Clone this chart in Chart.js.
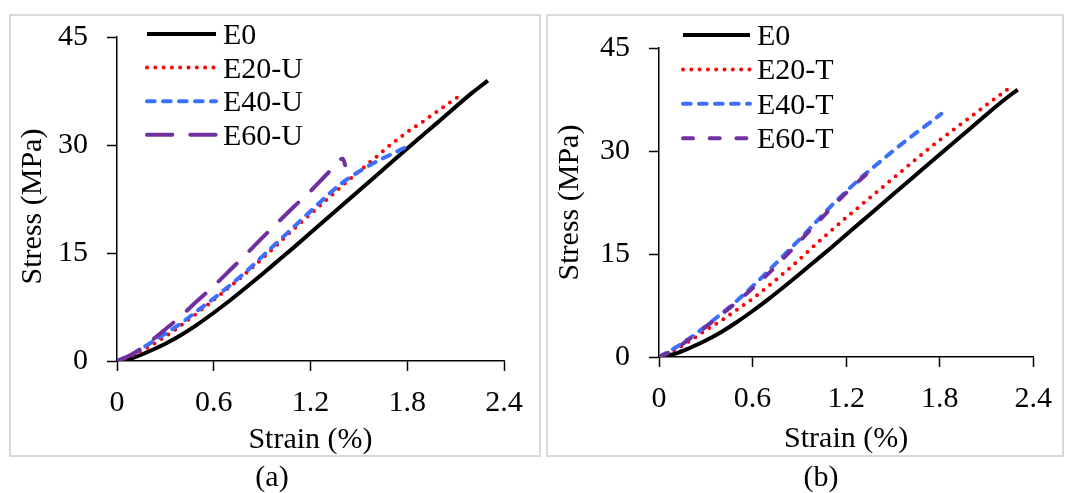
<!DOCTYPE html>
<html>
<head>
<meta charset="utf-8">
<script src="https://cdn.jsdelivr.net/npm/chart.js@4.4.1/dist/chart.umd.min.js"></script>
<style>
  body { margin: 0; background: #fff; width: 1066px; height: 493px; position: relative; overflow: hidden;
         font-family: 'Liberation Serif', 'Times New Roman', serif; }
  .frame { position: absolute; top: 14px; height: 443px; border: 2px solid #d9d9d9; box-sizing: border-box; }
  canvas { position: absolute; top: 0; }
  .cap { position: absolute; top: 461px; width: 100px; text-align: center; font-size: 30px; line-height: 30px; color: #000; }
</style>
</head>
<body>
<div class="frame" style="left:9px;width:532px"></div>
<div class="frame" style="left:546px;width:518px"></div>
<canvas id="chartA" width="543" height="493" style="left:0"></canvas>
<canvas id="chartB" width="523" height="493" style="left:543px"></canvas>
<div class="cap" style="left:222px">(a)</div>
<div class="cap" style="left:771px">(b)</div>
<script>
// axis ticks
var strainTicks = [0, 0.6, 1.2, 1.8, 2.4];
var stressTicks = [0, 15, 30, 45];

// control specimen, shown in both panels
var e0Strain = [0, 0.1, 0.2, 0.3, 0.4, 0.5, 0.6, 0.7, 0.8, 0.9, 1.0, 1.1, 1.2, 1.3, 1.4, 1.6, 1.8, 2.0, 2.2, 2.3];
var e0Stress = [0, 0.45, 1.35, 2.4, 3.65, 5.1, 6.7, 8.4, 10.2, 12.05, 13.95, 15.85, 17.8, 19.75, 21.7, 25.6, 29.5, 33.35, 37.2, 38.95];

// panel (a): -U series
var e20uStrain = [0, 0.1, 0.2, 0.3, 0.4, 0.5, 0.6, 0.7, 0.8, 0.9, 1.0, 1.1, 1.2, 1.3, 1.4, 1.5, 1.6, 1.7, 1.8, 1.9, 2.0, 2.11];
var e20uStress = [0, 0.8, 2.0, 3.4, 5.0, 6.7, 8.5, 10.3, 12.2, 14.2, 16.3, 18.4, 20.4, 22.4, 24.4, 26.3, 28.2, 30.1, 31.8, 33.3, 34.9, 36.6];
var e40uStrain = [0, 0.1, 0.2, 0.3, 0.4, 0.5, 0.6, 0.7, 0.8, 0.9, 1.0, 1.1, 1.2, 1.3, 1.4, 1.5, 1.6, 1.7, 1.8];
var e40uStress = [0, 1.0, 2.4, 3.8, 5.3, 7.0, 8.7, 10.5, 12.4, 14.5, 16.6, 18.7, 20.8, 22.9, 24.8, 26.3, 27.6, 28.7, 29.8];
var e60uStrain = [0, 0.1, 0.2, 0.3, 0.4, 0.5, 0.6, 0.7, 0.8, 0.9, 1.0, 1.1, 1.2, 1.3, 1.4, 1.415];
var e60uStress = [0, 1.0, 2.6, 4.4, 6.3, 8.4, 10.4, 12.6, 14.8, 17.1, 19.3, 21.5, 23.6, 25.9, 28.1, 27.2];

// panel (b): -T series
var e20tStrain = [0, 0.1, 0.2, 0.3, 0.4, 0.5, 0.6, 0.7, 0.8, 0.9, 1.0, 1.1, 1.2, 1.3, 1.4, 1.5, 1.6, 1.7, 1.8, 1.9, 2.0, 2.1, 2.2, 2.27];
var e20tStress = [0, 1.0, 2.4, 3.9, 5.3, 6.9, 8.5, 10.3, 12.2, 14.2, 16.3, 18.3, 20.3, 22.2, 24.1, 26.0, 27.9, 29.8, 31.6, 33.3, 35.0, 36.7, 38.4, 39.6];
var e40tStrain = [0, 0.1, 0.2, 0.3, 0.4, 0.5, 0.6, 0.7, 0.8, 0.9, 1.0, 1.1, 1.2, 1.3, 1.4, 1.5, 1.6, 1.7, 1.81];
var e40tStress = [0, 1.3, 2.8, 4.5, 6.3, 8.2, 10.3, 12.5, 14.8, 17.1, 19.5, 21.9, 24.1, 26.2, 28.1, 30.0, 31.8, 33.5, 35.4];
var e60tStrain = [0, 0.1, 0.2, 0.3, 0.4, 0.5, 0.6, 0.7, 0.8, 0.9, 1.0, 1.1, 1.2, 1.3, 1.38];
var e60tStress = [0, 1.1, 2.7, 4.4, 6.2, 8.0, 10.0, 12.1, 14.4, 16.8, 19.2, 21.6, 23.9, 26.0, 27.6];

Chart.defaults.font.family = "'Liberation Serif', 'Times New Roman', serif";
Chart.defaults.color = '#000';

function points(xs, ys) {
  return xs.map(function (x, i) { return { x: x, y: ys[i] }; });
}

// one line series; later series get a lower order so they are drawn on top
function series(label, xs, ys, color, dash, order) {
  return {
    label: label,
    data: points(xs, ys),
    borderColor: color,
    borderWidth: 4,
    borderDash: dash,
    borderCapStyle: dash.length ? 'round' : 'butt',
    pointRadius: 0,
    cubicInterpolationMode: 'monotone',
    order: order
  };
}

// legend drawn as a column of line samples in the top-left corner
var lineLegend = {
  id: 'lineLegend',
  afterDraw: function (chart, args, opts) {
    var ctx = chart.ctx;
    ctx.save();
    ctx.font = "30px 'Liberation Serif', 'Times New Roman', serif";
    ctx.fillStyle = '#000';
    ctx.textBaseline = 'alphabetic';
    chart.data.datasets.forEach(function (ds, i) {
      var y = opts.top + i * opts.rowGap;
      ctx.strokeStyle = ds.borderColor;
      ctx.lineWidth = ds.borderWidth;
      ctx.lineCap = ds.borderCapStyle;
      ctx.setLineDash(ds.borderDash);
      ctx.beginPath();
      ctx.moveTo(opts.left, y);
      ctx.lineTo(opts.left + opts.width, y);
      ctx.stroke();
      ctx.setLineDash([]);
      ctx.fillText(ds.label, opts.textLeft, y + 10);
    });
    ctx.restore();
  }
};

function makeChart(id, datasets, p) {
  var tickFont = { size: 30 };
  var titleFont = { size: 30 };
  return new Chart(document.getElementById(id), {
    type: 'line',
    data: { datasets: datasets },
    plugins: [lineLegend],
    options: {
      responsive: false,
      animation: false,
      devicePixelRatio: 1,
      layout: { padding: { left: 0, top: p.top, right: p.right, bottom: p.bottom } },
      plugins: {
        legend: { display: false },
        tooltip: { enabled: false },
        lineLegend: p.legend
      },
      scales: {
        x: {
          type: 'linear', min: 0, max: 2.4,
          afterBuildTicks: function (s) { s.ticks = strainTicks.map(function (v) { return { value: v }; }); },
          afterFit: function (s) { s.height = p.xHeight; },
          ticks: { font: tickFont, color: '#000', padding: 14, maxRotation: 0,
                   callback: function (v) { return String(v); } },
          grid: { drawOnChartArea: false, tickLength: 10, tickColor: '#000', tickWidth: 1.5 },
          border: { color: '#000', width: 1.5 },
          title: { display: true, text: 'Strain (%)', font: titleFont, color: '#000', padding: 0 }
        },
        y: {
          type: 'linear', min: 0, max: 45,
          afterBuildTicks: function (s) { s.ticks = stressTicks.map(function (v) { return { value: v }; }); },
          afterFit: function (s) { s.width = p.yWidth; },
          ticks: { font: tickFont, color: '#000', padding: 19 },
          grid: { drawOnChartArea: false, tickLength: 10, tickColor: '#000', tickWidth: 1.5 },
          border: { color: '#000', width: 1.5 },
          title: { display: true, text: p.yTitle, font: titleFont, color: '#000',
                   padding: { top: p.yTitlePad, bottom: 0 } }
        }
      }
    }
  });
}

makeChart('chartA', [
  series('E0', e0Strain, e0Stress, '#000000', [], 3),
  series('E20-U', e20uStrain, e20uStress, '#ff0000', [0, 8.3], 2),
  series('E40-U', e40uStrain, e40uStress, '#3d6fff', [7.7, 8.3], 1),
  series('E60-U', e60uStrain, e60uStress, '#7030a0', [25.3, 18], 0)
], {
  top: 33, right: 39, bottom: 35, xHeight: 97, yWidth: 117, yTitlePad: 15,
  yTitle: 'Stress (MPa)  ', // trailing spaces nudge the title a little lower
  legend: { left: 147, width: 69, textLeft: 223, top: 34, rowGap: 33.6 }
});

makeChart('chartB', [
  series('E0', e0Strain, e0Stress, '#000000', [], 3),
  series('E20-T', e20tStrain, e20tStress, '#ff0000', [0, 8.3], 2),
  series('E40-T', e40tStrain, e40tStress, '#3d6fff', [7.7, 8.3], 1),
  series('E60-T', e60tStrain, e60tStress, '#7030a0', [10, 16.7], 0)
], {
  top: 48, right: 23, bottom: 36, xHeight: 100, yWidth: 116, yTitlePad: 9,
  yTitle: 'Stress (MPa)',
  legend: { left: 140, width: 67, textLeft: 214, top: 35, rowGap: 34.4 }
});
</script>
</body>
</html>
